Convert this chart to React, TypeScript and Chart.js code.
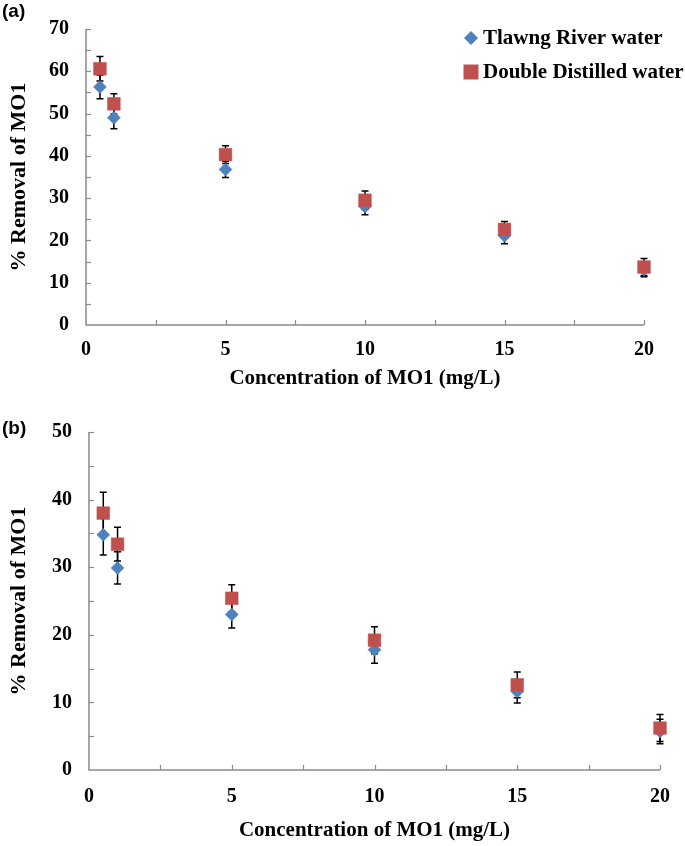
import React, { useEffect, useRef } from "react";
import { Chart, registerables } from "chart.js";

Chart.register(...registerables);

// ---------- data ----------
const concentrations = [0.5, 1, 5, 10, 15, 20];
const seriesNames = ["Tlawng River water", "Double Distilled water"];

// panel (a)
const aTlawng = [56.3, 49.0, 36.8, 28.0, 21.1, 13.1];
const aTlawngErr = [2.8, 2.6, 1.9, 1.9, 1.9, 1.7];
const aDistilled = [60.6, 52.3, 40.3, 29.5, 22.6, 13.7];
const aDistilledErr = [2.9, 2.4, 2.1, 2.2, 1.9, 2.0];

// panel (b)
const bTlawng = [34.8, 29.9, 23.0, 17.8, 11.6, 5.7];
const bTlawngErr = [3.0, 2.4, 2.0, 2.0, 1.7, 1.8];
const bDistilled = [38.0, 33.4, 25.4, 19.2, 12.6, 6.2];
const bDistilledErr = [3.1, 2.5, 2.0, 2.0, 1.9, 2.0];

const xTickValues = [0, 5, 10, 15, 20];
const aYTickValues = [0, 10, 20, 30, 40, 50, 60, 70];
const bYTickValues = [0, 10, 20, 30, 40, 50];

const xTitle = "Concentration of MO1 (mg/L)";
const yTitle = "% Removal of MO1";

// ---------- styles ----------
const SERIF = "'Liberation Serif', 'Times New Roman', serif";
const BLUE = "#4F81BD";
const RED = "#C0504D";
const AXIS = "#8a8a8a";

const decorPlugin = {
  id: "decor",
  beforeDatasetsDraw(chart: any, _args: any, opts: any) {
    const ctx = chart.ctx as CanvasRenderingContext2D;
    const xs = chart.scales.x;
    const ys = chart.scales.y;
    const x0 = xs.getPixelForValue(xs.min);
    const x1 = xs.getPixelForValue(xs.max);
    const y0 = ys.getPixelForValue(ys.min);
    const y1 = ys.getPixelForValue(ys.max);
    ctx.save();
    // axis lines
    ctx.strokeStyle = AXIS;
    ctx.lineWidth = 1.5;
    ctx.beginPath();
    ctx.moveTo(x0, y1);
    ctx.lineTo(x0, y0);
    ctx.lineTo(x1, y0);
    ctx.stroke();
    // inward tick marks (major + minor)
    ctx.lineWidth = 1.2;
    const tl = 5;
    for (let v = xs.min + opts.minorX; v <= xs.max + 1e-9; v += opts.minorX) {
      const px = Math.round(xs.getPixelForValue(v)) + 0.5;
      ctx.beginPath();
      ctx.moveTo(px, y0);
      ctx.lineTo(px, y0 - tl);
      ctx.stroke();
    }
    for (let v = ys.min + opts.minorY; v <= ys.max + 1e-9; v += opts.minorY) {
      const py = Math.round(ys.getPixelForValue(v)) + 0.5;
      ctx.beginPath();
      ctx.moveTo(x0, py);
      ctx.lineTo(x0 + tl, py);
      ctx.stroke();
    }
    // error bars
    ctx.strokeStyle = "#000";
    ctx.lineWidth = 1.5;
    chart.data.datasets.forEach((ds: any) => {
      const errs: number[] = ds.errors || [];
      ds.data.forEach((p: any, j: number) => {
        const e = errs[j] || 0;
        const px = xs.getPixelForValue(p.x);
        const pt = ys.getPixelForValue(p.y + e);
        const pb = ys.getPixelForValue(p.y - e);
        ctx.beginPath();
        ctx.moveTo(px, pt);
        ctx.lineTo(px, pb);
        ctx.moveTo(px - 3.5, pt);
        ctx.lineTo(px + 3.5, pt);
        ctx.moveTo(px - 3.5, pb);
        ctx.lineTo(px + 3.5, pb);
        ctx.stroke();
      });
    });
    ctx.restore();
  },
  afterDraw(chart: any, _args: any, opts: any) {
    const ctx = chart.ctx as CanvasRenderingContext2D;
    ctx.save();
    const items = opts.legendItems as { label: string; color: string; shape: string }[];
    items.forEach((it, i) => {
      const cy = opts.legendY + i * opts.legendGap;
      const cx = opts.legendX;
      ctx.fillStyle = it.color;
      ctx.beginPath();
      if (it.shape === "diamond") {
        const r = 7;
        ctx.moveTo(cx - r, cy);
        ctx.lineTo(cx, cy - r);
        ctx.lineTo(cx + r, cy);
        ctx.lineTo(cx, cy + r);
        ctx.closePath();
      } else {
        const s = 7.5;
        ctx.rect(cx - s, cy - s, 2 * s, 2 * s);
      }
      ctx.fill();
      ctx.fillStyle = "#000";
      ctx.font = `bold 21px ${SERIF}`;
      ctx.textBaseline = "middle";
      ctx.textAlign = "left";
      ctx.fillText(it.label, cx + 12, cy + 1);
    });
    ctx.restore();
  },
};

type PanelProps = {
  top: number;
  height: number;
  padTop: number;
  padRight: number;
  yWidth: number;
  xHeight: number;
  yMax: number;
  yTicks: number[];
  tlawng: number[];
  tlawngErr: number[];
  distilled: number[];
  distilledErr: number[];
  legendX: number;
  legendY: number;
  legendGap: number;
  xTickPad: number;
  xTitlePadBottom: number;
  yTitlePadTop: number;
  label: string;
  labelTop: number;
};

function Panel(p: PanelProps) {
  const ref = useRef<HTMLCanvasElement | null>(null);
  useEffect(() => {
    if (!ref.current) return;
    const chart = new Chart(ref.current, {
      type: "scatter",
      data: {
        datasets: [
          {
            label: seriesNames[1],
            data: concentrations.map((x, i) => ({ x, y: p.distilled[i] })),
            errors: p.distilledErr,
            pointStyle: "rect",
            pointRadius: 9,
            backgroundColor: RED,
            borderColor: RED,
            borderWidth: 0.5,
            clip: false,
            order: 0,
          } as any,
          {
            label: seriesNames[0],
            data: concentrations.map((x, i) => ({ x, y: p.tlawng[i] })),
            errors: p.tlawngErr,
            pointStyle: "rectRot",
            pointRadius: 6.5,
            backgroundColor: BLUE,
            borderColor: BLUE,
            borderWidth: 0.5,
            clip: false,
            order: 1,
          } as any,
        ],
      },
      options: {
        animation: false,
        responsive: false,
        maintainAspectRatio: false,
        layout: { padding: { top: p.padTop, right: p.padRight, left: 0, bottom: 0 } },
        plugins: {
          legend: { display: false },
          tooltip: { enabled: false },
          decor: {
            minorX: 2.5,
            minorY: 5,
            legendX: p.legendX,
            legendY: p.legendY,
            legendGap: p.legendGap,
            legendItems: [
              { label: seriesNames[0], color: BLUE, shape: "diamond" },
              { label: seriesNames[1], color: RED, shape: "square" },
            ],
          },
        } as any,
        scales: {
          x: {
            type: "linear",
            min: 0,
            max: 20,
            afterBuildTicks: (s: any) => {
              s.ticks = xTickValues.map((v) => ({ value: v }));
            },
            afterFit: (s: any) => {
              s.height = p.xHeight;
            },
            grid: { display: false, drawTicks: false },
            border: { display: false },
            ticks: {
              color: "#000",
              padding: p.xTickPad,
              font: { family: SERIF, size: 20, weight: "bold" },
            },
            title: {
              display: true,
              text: xTitle,
              color: "#000",
              padding: { top: 0, bottom: p.xTitlePadBottom },
              font: { family: SERIF, size: 21, weight: "bold" },
            },
          },
          y: {
            type: "linear",
            min: 0,
            max: p.yMax,
            afterBuildTicks: (s: any) => {
              s.ticks = p.yTicks.map((v) => ({ value: v }));
            },
            afterFit: (s: any) => {
              s.width = p.yWidth;
            },
            grid: { display: false, drawTicks: false },
            border: { display: false },
            ticks: {
              color: "#000",
              padding: 17,
              font: { family: SERIF, size: 20, weight: "bold" },
            },
            title: {
              display: true,
              text: yTitle,
              color: "#000",
              padding: { top: p.yTitlePadTop, bottom: 0 },
              font: { family: SERIF, size: 22, weight: "bold" },
            },
          },
        },
      },
      plugins: [decorPlugin as any],
    });
    return () => chart.destroy();
  }, []);
  return (
    <>
      <canvas
        ref={ref}
        width={685}
        height={p.height}
        style={{ position: "absolute", left: 0, top: p.top, width: 685, height: p.height }}
      />
      <div
        style={{
          position: "absolute",
          left: 2,
          top: p.labelTop,
          font: "bold 19px 'Liberation Sans', Arial, sans-serif",
          color: "#000",
          lineHeight: "20px",
        }}
      >
        {p.label}
      </div>
    </>
  );
}

export default function App() {
  return (
    <div
      style={{
        position: "absolute",
        left: 0,
        top: 0,
        width: 685,
        height: 846,
        background: "#fff",
        overflow: "hidden",
      }}
    >
      <Panel
        top={0}
        height={400}
        padTop={21}
        padRight={41}
        yWidth={86}
        xHeight={75}
        yMax={70}
        yTicks={aYTickValues}
        tlawng={aTlawng}
        tlawngErr={aTlawngErr}
        distilled={aDistilled}
        distilledErr={aDistilledErr}
        legendX={471}
        legendY={38}
        legendGap={34}
        xTickPad={13}
        xTitlePadBottom={9}
        yTitlePadTop={6}
        label="(a)"
        labelTop={1}
      />
      <Panel
        top={400}
        height={446}
        padTop={32}
        padRight={22}
        yWidth={89}
        xHeight={76}
        yMax={50}
        yTicks={bYTickValues}
        tlawng={bTlawng}
        tlawngErr={bTlawngErr}
        distilled={bDistilled}
        distilledErr={bDistilledErr}
        legendX={474}
        legendY={471}
        legendGap={40}
        xTickPad={15}
        xTitlePadBottom={3}
        yTitlePadTop={6}
        label="(b)"
        labelTop={418}
      />
    </div>
  );
}
